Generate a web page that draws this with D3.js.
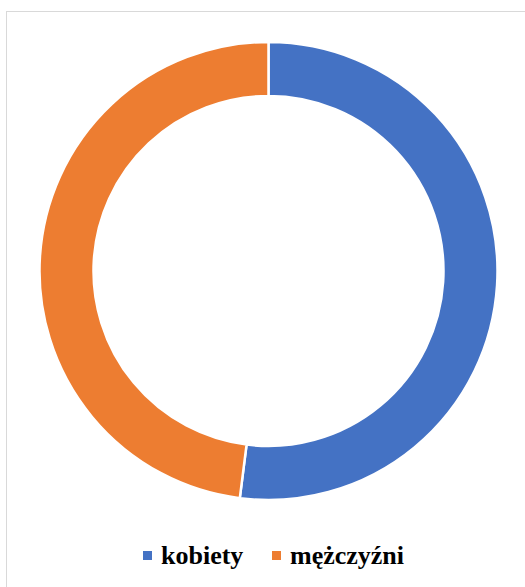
<!DOCTYPE html>
<html>
<head>
<meta charset="utf-8">
<script src="https://cdn.jsdelivr.net/npm/d3@7"></script>
<style>
  body { margin: 0; background: #fff; }
  svg { display: block; }
  .legend-label { font-family: "Times New Roman", "Liberation Serif", "DejaVu Serif", serif; font-weight: bold; }
</style>
</head>
<body>
<svg></svg>
<script>
const categories = ["kobiety", "mężczyźni"]
const values = [52, 48]
const colors = ["#4472C4", "#ED7D31"]

let width = 525
let height = 587
let cx = 268.5
let cy = 271
let outerR = 229
let innerR = 175

let svg = d3.select("svg")
    .attr("width", width)
    .attr("height", height)

// chart frame
svg.append("rect")
    .attr("x", 6.5)
    .attr("y", 11.5)
    .attr("width", 530)
    .attr("height", 590)
    .attr("fill", "none")
    .attr("stroke", "#d9d9d9")
    .attr("stroke-width", 1)

let color = d3.scaleOrdinal().domain(categories).range(colors)

let pie = d3.pie().sort(null).value((d, i) => values[i])
let arc = d3.arc().innerRadius(innerR).outerRadius(outerR)

svg.append("g")
    .attr("transform", "translate(" + cx + "," + cy + ")")
    .selectAll("path")
    .data(pie(categories))
    .enter()
    .append("path")
    .attr("d", arc)
    .attr("fill", d => color(d.data))
    .attr("stroke", "#fff")
    .attr("stroke-width", 2.5)

// legend
let legendX = [143, 272]
let legend = svg.append("g")
    .selectAll("g")
    .data(categories)
    .enter()
    .append("g")
    .attr("transform", (d, i) => "translate(" + legendX[i] + ",551)")

legend.append("rect")
    .attr("width", 9)
    .attr("height", 9)
    .attr("fill", d => color(d))

legend.append("text")
    .attr("class", "legend-label")
    .attr("x", 18)
    .attr("y", 12.5)
    .attr("font-size", 26)
    .attr("fill", "#000")
    .text(d => d)
</script>
</body>
</html>
